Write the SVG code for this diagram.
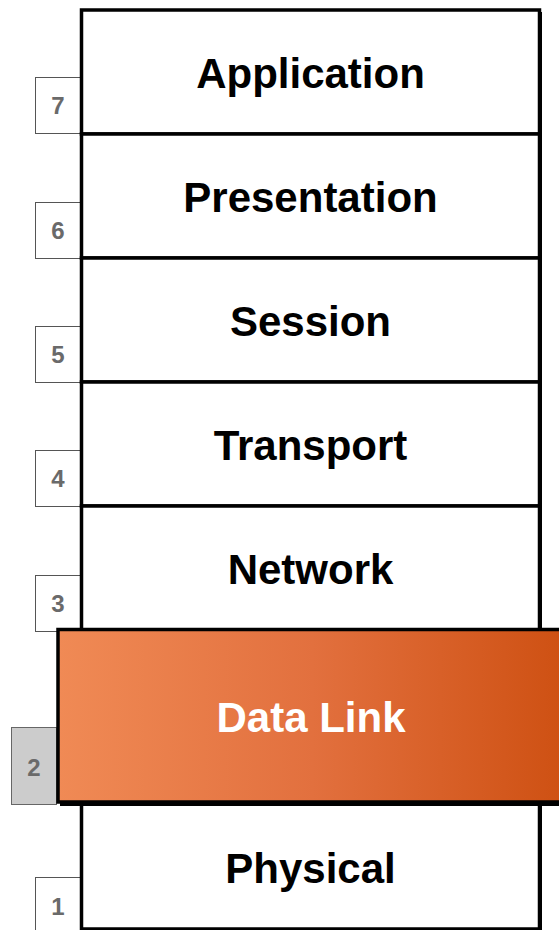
<svg xmlns="http://www.w3.org/2000/svg" width="559" height="930" viewBox="0 0 559 930">
<defs>
<linearGradient id="dl" x1="0" y1="0" x2="1" y2="0">
<stop offset="0" stop-color="#F08A55"/>
<stop offset="0.5" stop-color="#E2703E"/>
<stop offset="1" stop-color="#CE5012"/>
</linearGradient>
<style>
.layer{fill:#fff;stroke:#000;stroke-width:3.5}
.shadow{fill:#000}
.num{fill:#fff;stroke:#555;stroke-width:1}
.lbl{font-family:"Liberation Sans",Arial,sans-serif;font-weight:bold;font-size:42px;fill:#000;text-anchor:middle}
.n{font-family:"Liberation Sans",Arial,sans-serif;font-weight:bold;font-size:24px;fill:#6A6A6A;text-anchor:middle}
</style>
</defs>
<rect width="559" height="930" fill="#fff"/>
<g id="num7"><rect class="num" x="35.5" y="77.5" width="45" height="56"/><text class="n" x="58" y="114">7</text></g>
<g id="num6"><rect class="num" x="35.5" y="202.5" width="45" height="56"/><text class="n" x="58" y="239">6</text></g>
<g id="num5"><rect class="num" x="35.5" y="326.5" width="45" height="56"/><text class="n" x="58" y="363">5</text></g>
<g id="num4"><rect class="num" x="35.5" y="450.5" width="45" height="56"/><text class="n" x="58" y="487">4</text></g>
<g id="num3"><rect class="num" x="35.5" y="575.5" width="45" height="56"/><text class="n" x="58" y="612">3</text></g>
<g id="num2"><rect x="11.5" y="727.5" width="45" height="77" fill="#CCCCCC" stroke="#666" stroke-width="1"/><text class="n" x="34" y="776">2</text></g>
<g id="num1"><rect class="num" x="35.5" y="877.5" width="45" height="60"/><text class="n" x="58" y="915">1</text></g>
<g id="application"><rect class="shadow" x="84" y="12" width="458" height="124"/><rect class="layer" x="81.5" y="10" width="458" height="124"/><text class="lbl" x="310.5" y="88">Application</text></g>
<g id="presentation"><rect class="shadow" x="84" y="136" width="458" height="124"/><rect class="layer" x="81.5" y="134" width="458" height="124"/><text class="lbl" x="310.5" y="212">Presentation</text></g>
<g id="session"><rect class="shadow" x="84" y="260" width="458" height="124"/><rect class="layer" x="81.5" y="258" width="458" height="124"/><text class="lbl" x="310.5" y="336">Session</text></g>
<g id="transport"><rect class="shadow" x="84" y="384" width="458" height="124"/><rect class="layer" x="81.5" y="382" width="458" height="124"/><text class="lbl" x="310.5" y="460">Transport</text></g>
<g id="network"><rect class="shadow" x="84" y="508" width="458" height="124"/><rect class="layer" x="81.5" y="506" width="458" height="124"/><text class="lbl" x="310.5" y="584">Network</text></g>
<g id="physical"><rect class="shadow" x="84" y="806" width="458" height="126"/><rect class="layer" x="81.5" y="803" width="458" height="126"/><text class="lbl" x="310.5" y="883">Physical</text></g>
<g id="datalink"><rect class="shadow" x="60" y="632" width="510" height="174"/><rect x="58" y="629.5" width="510" height="172.5" fill="url(#dl)" stroke="#000" stroke-width="3.5"/><text class="lbl" x="311" y="732" style="fill:#fff">Data Link</text></g>
<g id="connectors"></g>
</svg>
